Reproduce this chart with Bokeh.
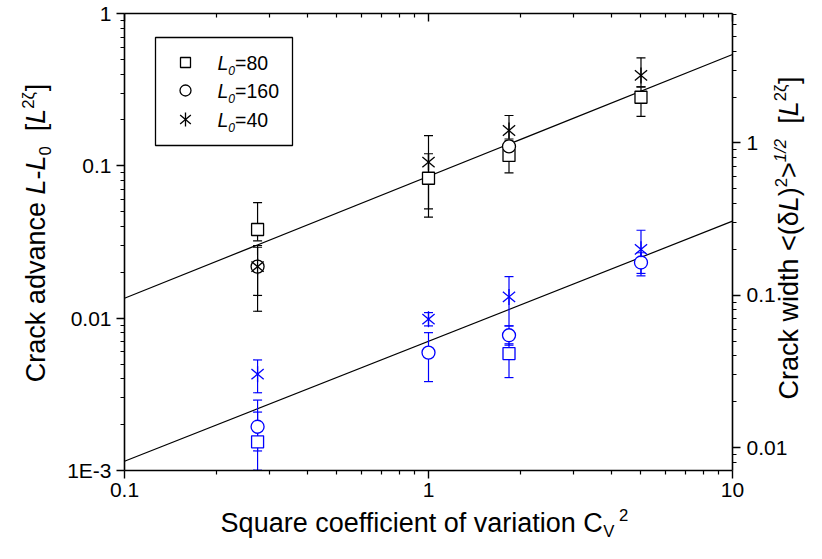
import math
from bokeh.plotting import figure
from bokeh.models import (Range1d, LinearScale, LogScale, LogAxis, FixedTicker,
                          CustomJSTickFormatter, Label)
from bokeh.embed import file_html
from bokeh.resources import INLINE

NA = None

# ---------------- data ----------------
cv2 = [0.274, 1.0, 1.84, 5.0]               # square coefficient of variation

x_ticks = [0.1, 1, 10]
left_ticks = [0.001, 0.01, 0.1, 1]
right_ticks = [0.01, 0.1, 1]
x_lim = [0.1, 10]
left_lim = [0.001, 1]
right_lim = [0.00707, 7.07]

# crack advance L-L0 (left axis, black)
adv_80 = [0.0382, 0.0829, 0.117, 0.282]
adv_80_lo = [0.0322, 0.0522, 0.090, 0.211]
adv_80_hi = [0.0574, 0.120, 0.128, 0.330]
adv_160 = [0.0218, NA, 0.134, NA]
adv_160_lo = [0.0141, NA, 0.124, NA]
adv_160_hi = [0.0292, NA, 0.146, NA]
adv_40 = [0.0218, 0.1056, 0.1706, 0.392]
adv_40_lo = [0.0111, 0.046, 0.150, 0.330]
adv_40_hi = [0.0300, 0.158, 0.214, 0.512]

# crack width <(dL)^2>^1/2 (right axis, blue)
wid_80 = [0.0109, NA, 0.0414, NA]
wid_80_lo = [0.0071, NA, 0.0288, NA]
wid_80_hi = [0.0171, NA, 0.0480, NA]
wid_160 = [0.0137, 0.0420, 0.0546, 0.164]
wid_160_lo = [0.0095, 0.0271, 0.0470, 0.139]
wid_160_hi = [0.0205, 0.0568, 0.0629, 0.190]
wid_40 = [0.0303, 0.0696, 0.0975, 0.200]
wid_40_lo = [0.0229, 0.0629, 0.0629, 0.134]
wid_40_hi = [0.0376, 0.0769, 0.1325, 0.267]

# power-law fits  y = A * x^b
fit_adv = (0.0853, 0.80)
fit_wid = (0.0499, 0.788)

legend_labels = ["80", "160", "40"]

BLUE = "#0000ff"
FONT = "Liberation Sans"

# ---------------- layout (pixels) ----------------
W, H = 806, 543
ML, MR, MT, MB = 124, 74, 13, 73         # margins around the axes box
FW, FH = W - ML - MR, H - MT - MB        # axes box size
MID = 0.33                               # baseline offset below a "middle" anchor (em)


def padded(lim, lo_px, hi_px, span_px):
    a, b = math.log10(lim[0]), math.log10(lim[1])
    k = (b - a) / span_px
    return Range1d(10 ** (a - lo_px * k), 10 ** (b + hi_px * k))


p = figure(width=W, height=H, x_axis_type="log", y_axis_type="log",
           x_range=padded(x_lim, ML, MR, FW), y_range=padded(left_lim, MB, MT, FH),
           output_backend="svg", toolbar_location=None,
           min_border_left=0, min_border_right=0, min_border_top=0, min_border_bottom=0)
p.extra_y_ranges = {"w": padded(right_lim, MB, MT, FH), "py": Range1d(-MB, FH + MT)}
p.extra_y_scales = {"w": LogScale(), "py": LinearScale()}
p.extra_x_ranges = {"px": Range1d(-ML, FW + MR)}
p.extra_x_scales = {"px": LinearScale()}
p.xgrid.visible = False
p.ygrid.visible = False
p.outline_line_color = None
p.background_fill_color = "white"
p.border_fill_color = "white"


def minors(lo, hi):
    out = []
    for e in range(-5, 3):
        for m in range(2, 10):
            v = m * 10.0 ** e
            if lo * 0.999 <= v <= hi * 1.001:
                out.append(v)
    return out


fmt_code = """
const e = Math.round(Math.log10(tick));
if (e < -2) return "1E" + e;
if (e >= 0) return String(Math.round(tick));
return tick.toFixed(-e);
"""


def style_axis(ax, inside=False, labels=True, standoff=5):
    ax.axis_line_width = 1.6
    ax.axis_line_color = "black"
    ax.major_tick_line_width = 1.4
    ax.minor_tick_line_width = 1.2
    ax.major_tick_line_color = "black"
    ax.minor_tick_line_color = "black"
    if inside:
        ax.major_tick_in, ax.major_tick_out = 8, 0
        ax.minor_tick_in, ax.minor_tick_out = 4, 0
    else:
        ax.major_tick_in, ax.major_tick_out = 0, 8
        ax.minor_tick_in, ax.minor_tick_out = 0, 4
    ax.major_label_text_font = FONT
    ax.major_label_text_font_size = "21px"
    ax.major_label_text_color = "black"
    ax.major_label_standoff = standoff
    if labels:
        ax.formatter = CustomJSTickFormatter(code=fmt_code)
    else:
        ax.formatter = CustomJSTickFormatter(code="return '';")
        ax.major_label_standoff = 0
        ax.major_label_text_font_size = "1px"


bottom = p.xaxis[0]
bottom.ticker = FixedTicker(ticks=x_ticks, minor_ticks=minors(*x_lim))
bottom.bounds = tuple(x_lim)
bottom.fixed_location = left_lim[0]
style_axis(bottom, standoff=4)

left = p.yaxis[0]
left.ticker = FixedTicker(ticks=left_ticks, minor_ticks=minors(*left_lim))
left.bounds = tuple(left_lim)
left.fixed_location = x_lim[0]
style_axis(left, standoff=5)

top = LogAxis(ticker=FixedTicker(ticks=x_ticks, minor_ticks=minors(*x_lim)),
              bounds=tuple(x_lim), fixed_location=left_lim[1])
style_axis(top, inside=True, labels=False)
p.add_layout(top, "above")

right = LogAxis(y_range_name="w",
                ticker=FixedTicker(ticks=right_ticks, minor_ticks=minors(*right_lim)),
                bounds=tuple(right_lim), fixed_location=x_lim[1])
style_axis(right, standoff=6)
p.add_layout(right, "right")

# ---------------- fits ----------------
xf = list(x_lim)
p.line(xf, [fit_adv[0] * x ** fit_adv[1] for x in xf], line_color="black", line_width=1.2)
p.line(xf, [fit_wid[0] * x ** fit_wid[1] for x in xf], line_color="black", line_width=1.2,
       y_range_name="w")


def pick(x, v, lo, hi):
    idx = [i for i in range(len(x)) if v[i] is not None]
    return ([x[i] for i in idx], [v[i] for i in idx],
            [lo[i] for i in idx], [hi[i] for i in idx])


def errbars(x, v, lo, hi, color, yr):
    xs, vs, los, his = pick(x, v, lo, hi)
    p.segment(x0=xs, y0=los, x1=xs, y1=his, line_color=color, line_width=1.2, y_range_name=yr)
    p.scatter(xs + xs, los + his, marker="dash", size=9, line_color=color, line_width=1.2,
              y_range_name=yr)


STAR_ANGLES = [math.pi / 2, math.radians(40), math.radians(-40)]


def marks(x, v, kind, color, yr, sq=12, ci=13, st=16, xr="default"):
    if kind == "square":
        p.scatter(x, v, marker="square", size=sq, line_color=color, fill_color="white",
                  line_width=1.3, y_range_name=yr, x_range_name=xr)
    elif kind == "circle":
        p.scatter(x, v, marker="circle", size=ci, line_color=color, fill_color="white",
                  line_width=1.3, y_range_name=yr, x_range_name=xr)
    else:
        for a in STAR_ANGLES:
            p.scatter(x, v, marker="dash", size=st, angle=a, line_color=color,
                      line_width=1.3, y_range_name=yr, x_range_name=xr)


series = [
    ("square", adv_80, adv_80_lo, adv_80_hi, wid_80, wid_80_lo, wid_80_hi),
    ("circle", adv_160, adv_160_lo, adv_160_hi, wid_160, wid_160_lo, wid_160_hi),
    ("star", adv_40, adv_40_lo, adv_40_hi, wid_40, wid_40_lo, wid_40_hi),
]

for kind, a, alo, ahi, w, wlo, whi in series:
    errbars(cv2, a, alo, ahi, "black", "default")
    errbars(cv2, w, wlo, whi, BLUE, "w")
for kind, a, alo, ahi, w, wlo, whi in series:
    xs, vs, _, _ = pick(cv2, a, alo, ahi)
    marks(xs, vs, kind, "black", "default")
    xs, vs, _, _ = pick(cv2, w, wlo, whi)
    marks(xs, vs, kind, BLUE, "w")

# ---------------- rich text helpers ----------------
WID = {' ': 278, 'C': 722, 'r': 333, 'a': 556, 'c': 500, 'k': 500, 'd': 556, 'v': 500,
       'n': 556, 'e': 556, 'L': 556, '-': 333, '0': 556, '[': 278, ']': 278, '2': 556,
       'ζ': 480, 'S': 667, 'q': 556, 'u': 556, 'o': 556, 'f': 278, 'i': 222, 't': 278,
       'w': 722, 'h': 556, '<': 584, '>': 584, '(': 333, ')': 333, 'δ': 556, '1': 556,
       '/': 278, 'V': 667, '=': 584, '8': 556, '6': 556, '4': 556}


def tw(s, size):
    return sum(WID.get(ch, 556) for ch in s) * size / 1000.0


def rich(pieces, x, y, size, vertical=False, align="center"):
    """x, y: baseline position (frame pixels) of the whole text run."""
    widths = [tw(t, size * sc) for t, st, sc, sh in pieces]
    total = sum(widths)
    start = (y if vertical else x)
    if align == "center":
        start -= total / 2
    pos = start
    for (t, st, sc, sh), wdt in zip(pieces, widths):
        fs = size * sc
        lead = len(t) - len(t.lstrip(' '))
        txt = t.strip(' ')
        off = pos + tw(' ' * lead, fs)
        if txt:
            up = sh * size + MID * fs        # anchor sits above the baseline
            kw = dict(text=txt, text_font=FONT, text_font_size=f"{fs:.1f}px",
                      text_font_style=st, text_color="black", text_align="left",
                      text_baseline="middle", x_range_name="px", y_range_name="py")
            if vertical:
                lab = Label(x=x - up, y=off, angle=math.pi / 2, **kw)
            else:
                lab = Label(x=off, y=y + up, **kw)
            p.add_layout(lab)
        pos += wdt


AX = 27
SUB = (0.62, -0.22)
SUP = (0.62, 0.42)

rich([("Crack advance ", "normal", 1, 0), ("L", "italic", 1, 0), ("-", "normal", 1, 0),
      ("L", "italic", 1, 0), ("0", "normal", SUB[0], SUB[1]), ("  [", "normal", 1, 0),
      ("L", "italic", 1, 0), ("2ζ", "normal", SUP[0], SUP[1]), ("]", "normal", 1, 0)],
     -79.5, 237.5, AX, vertical=True)

rich([("Crack width <(", "normal", 1, 0), ("δ", "normal", 1, 0), ("L", "italic", 1, 0),
      (")", "normal", 1, 0), ("2", "normal", SUP[0], SUP[1]), (">", "normal", 1, 0),
      ("1/2", "italic", SUP[0], SUP[1]), ("  [", "normal", 1, 0), ("L", "italic", 1, 0),
      ("2ζ", "normal", SUP[0], SUP[1]), ("]", "normal", 1, 0)],
     673, 232.5, AX, vertical=True)

rich([("Square coefficient of variation C", "normal", 1, 0),
      ("V", "normal", SUB[0], -0.22), (" 2", "normal", SUP[0], SUP[1])],
     300, -61, AX)

# ---------------- legend ----------------
p.quad(left=[31], right=[168], top=[433], bottom=[325], fill_color=None,
       line_color="black", line_width=1.3, x_range_name="px", y_range_name="py")
leg_y = [408, 380, 351]
for (kind, *_), yy, lab in zip(series, leg_y, legend_labels):
    marks([61], [yy], kind, "black", "py", sq=10, ci=11, st=14, xr="px")
    rich([("L", "italic", 1, 0), ("0", "italic", 0.62, -0.25), ("=" + lab, "normal", 1, 0)],
         93, yy - 7, 19.5, align="left")

open("out.html", "w").write(file_html(p, INLINE))
